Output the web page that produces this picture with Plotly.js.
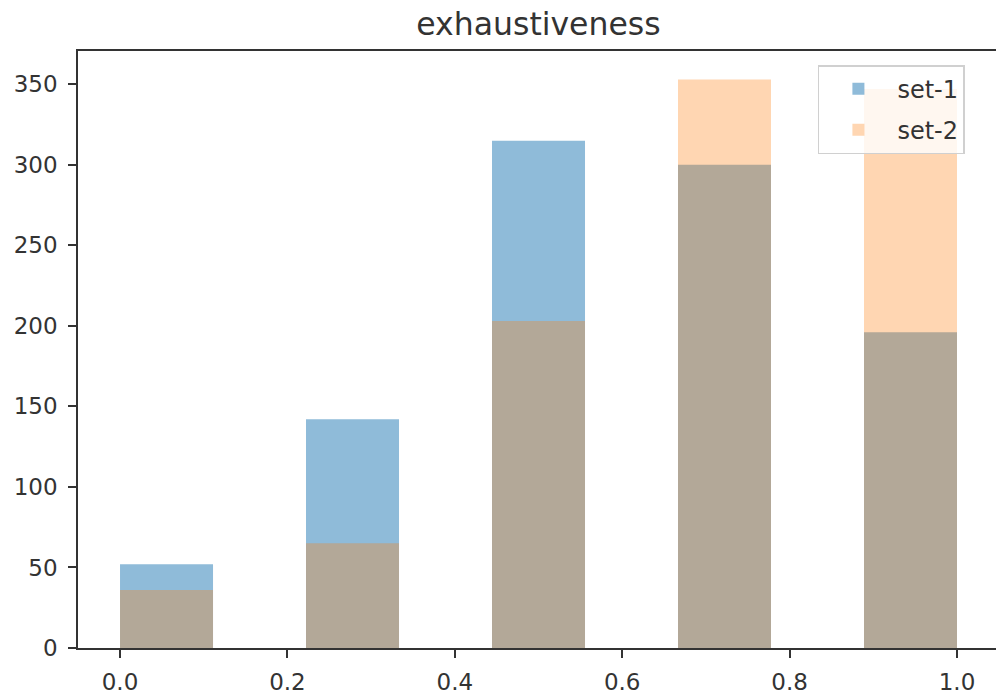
<!DOCTYPE html>
<html>
<head>
<meta charset="utf-8">
<script src="https://cdn.plot.ly/plotly-3.0.1.min.js"></script>
<style>html,body{margin:0;padding:0;background:#fff;}#chart{width:996px;height:698px;}</style>
</head>
<body>
<div id="chart"></div>
<script>
const binCenters = [0.05556, 0.27778, 0.5, 0.72222, 0.94444];
const binWidth = 1/9;
const set1 = [52, 142, 315, 300, 196];
const set2 = [36, 65, 203, 353, 347];
const seriesNames = ['set-1', 'set-2'];
const xTicks = [0.0, 0.2, 0.4, 0.6, 0.8, 1.0];
const xTickText = ['0.0', '0.2', '0.4', '0.6', '0.8', '1.0'];
const yTicks = [0, 50, 100, 150, 200, 250, 300, 350];

const traces = [
  {type: 'bar', x: binCenters, y: set1, width: binWidth, name: seriesNames[0], legendgroup: 'g1',
   marker: {color: 'rgba(31,119,180,0.5)', line: {width: 0}}},
  {type: 'bar', x: binCenters, y: set2, width: binWidth, name: seriesNames[1], legendgroup: 'g2',
   marker: {color: 'rgba(255,127,14,0.32)', line: {width: 0}}}
];

const layout = {
  width: 996, height: 698,
  margin: {l: 78, r: 0, t: 51, b: 50, pad: 0},
  barmode: 'overlay',
  paper_bgcolor: '#fff', plot_bgcolor: '#fff',
  font: {family: 'DejaVu Sans', size: 23, color: '#333'},
  title: {text: 'exhaustiveness', x: 0.5016, xref: 'paper', y: 0.9656, yanchor: 'middle',
          font: {family: 'DejaVu Sans', size: 31.5, color: '#333'}},
  xaxis: {range: [-0.0502, 1.0466], tickvals: xTicks, ticktext: xTickText,
          showgrid: false, zeroline: false, showline: true, mirror: true,
          linecolor: '#333', linewidth: 1.5, ticks: 'outside', ticklen: 8, tickwidth: 1.5,
          tickcolor: '#333', tickfont: {size: 23}, ticklabelstandoff: 5},
  yaxis: {range: [0, 370.65], tickvals: yTicks, showgrid: false, zeroline: false,
          showline: true, mirror: false, linecolor: '#333', linewidth: 1.5,
          ticks: 'outside', ticklen: 8, tickwidth: 1.5, tickcolor: '#333', tickfont: {size: 23},
          ticklabelstandoff: 6},
  showlegend: true,
  legend: {x: 0.806, y: 0.9765, xanchor: 'left', yanchor: 'top',
           bgcolor: 'rgba(255,255,255,0.8)', bordercolor: '#d0d0d0', borderwidth: 1.5,
           font: {size: 24}, traceorder: 'grouped', tracegroupgap: 7, itemwidth: 68}
};

Plotly.newPlot('chart', traces, layout, {displayModeBar: false});
</script>
</body>
</html>
